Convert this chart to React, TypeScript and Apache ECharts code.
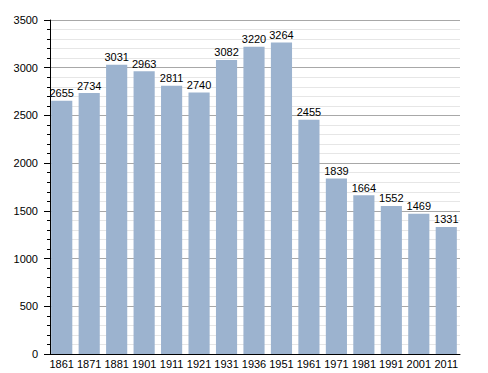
import React, { useEffect, useRef } from "react";
import * as echarts from "echarts";

const years = ["1861", "1871", "1881", "1901", "1911", "1921", "1931", "1936", "1951", "1961", "1971", "1981", "1991", "2001", "2011"];
const population = [2655, 2734, 3031, 2963, 2811, 2740, 3082, 3220, 3264, 2455, 1839, 1664, 1552, 1469, 1331];
const yMin = 0;
const yMax = 3500;
const yStep = 500;

export default function App() {
  const ref = useRef<HTMLDivElement>(null);
  useEffect(() => {
    if (!ref.current) return;
    const chart = echarts.init(ref.current, null, { renderer: "svg" });
    const font = "'Liberation Sans', Arial, sans-serif";
    chart.setOption({
      animation: false,
      backgroundColor: "#ffffff",
      grid: { left: 48, right: 28, top: 20, bottom: 19, containLabel: false },
      xAxis: {
        type: "category",
        data: years,
        axisLine: { show: true, lineStyle: { color: "#000", width: 1 } },
        axisTick: { show: false },
        axisLabel: { color: "#000", fontSize: 11, fontFamily: font, margin: 4, interval: 0 },
      },
      yAxis: {
        type: "value",
        min: yMin,
        max: yMax,
        interval: yStep,
        offset: -2,
        axisLine: { show: true, lineStyle: { color: "#000", width: 1 } },
        axisTick: { show: true, length: 6, lineStyle: { color: "#000" } },
        minorTick: { show: true, splitNumber: 5, length: 3, lineStyle: { color: "#000" } },
        splitLine: { show: true, lineStyle: { color: "#a8a8a8", width: 1 } },
        minorSplitLine: { show: true, lineStyle: { color: "#e6e6e6", width: 1 } },
        axisLabel: {
          color: "#000",
          fontSize: 11,
          fontFamily: font,
          margin: 12,
          formatter: (v: number) => String(v),
        },
      },
      series: [
        {
          type: "bar",
          data: population,
          barCategoryGap: "23%",
          itemStyle: { color: "#9cb3cf" },
          label: {
            show: true,
            position: "top",
            distance: 2,
            color: "#000",
            fontSize: 11,
            fontFamily: font,
            formatter: (p: any) => String(p.value),
          },
        },
      ],
    });
    return () => chart.dispose();
  }, []);
  return <div ref={ref} style={{ width: 488, height: 373, position: "absolute", left: 0, top: 0 }} />;
}
